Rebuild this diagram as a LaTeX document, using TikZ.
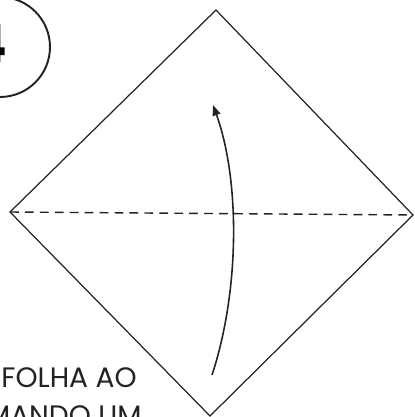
\documentclass[tikz,border=0pt]{standalone}
\usepackage{fontspec}
\setmainfont{Poppins}
\usepackage{tikz}
\usetikzlibrary{arrows.meta}
\definecolor{inkgray}{RGB}{35,35,35}

\begin{document}
\begin{tikzpicture}[x=0.02cm,y=-0.02cm,
    fold/.style={draw=inkgray,line width=.7pt},
    valley/.style={draw=inkgray,line width=.8pt,dash pattern=on 5pt off 3.5pt},
    stepnum/.style={font=\bfseries\fontsize{30}{30}\selectfont,inner sep=0pt},
    caption/.style={font=\fontsize{16}{16}\selectfont,inner sep=0pt,text=inkgray}]
    \useasboundingbox (0,0) rectangle (414,417);
    % paper corners
    \coordinate (top) at (216,10);
    \coordinate (left) at (10,212);
    \coordinate (right) at (413,215);
    \coordinate (bottom) at (210,416);
    \draw[fold] (top)--(right)--(bottom)--(left)--cycle;
    \draw[valley] (left)--(right);
    % fold arrow
    \coordinate (arrowstart) at (212,375);
    \coordinate (arrowend) at (213,105);
    \draw[inkgray,line width=.9pt,-{Triangle[length=6pt,width=4.5pt]}] (arrowstart) .. controls (240,290) and (240,180) .. (arrowend);
    % step number
    \node[draw=inkgray,line width=1.1pt,circle,minimum size=2cm] (badge) at (0,47) {};
    \node[stepnum,anchor=base east] (num) at (8,62) {4};
    % instruction text
    \node[caption,anchor=base west] (line1) at (1,387) {FOLHA AO};
    \node[caption,anchor=base east] (line2) at (142,425) {MANDO UM};
\end{tikzpicture}
\end{document}
